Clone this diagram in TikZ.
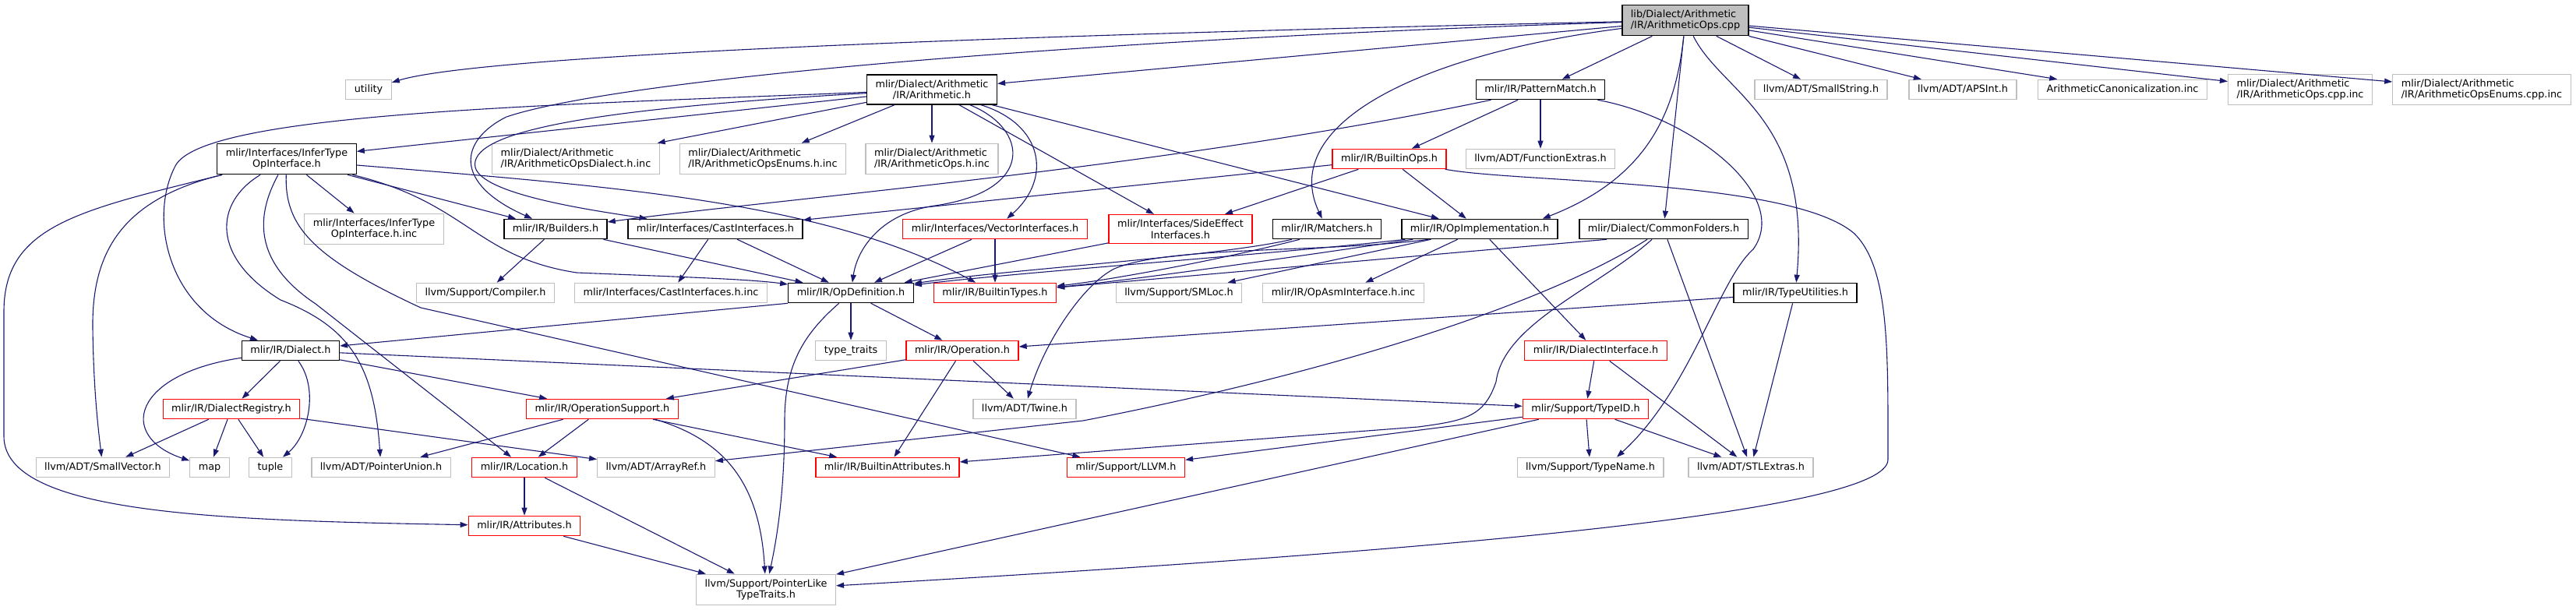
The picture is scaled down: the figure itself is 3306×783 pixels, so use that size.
\documentclass[tikz,border=0pt]{standalone}
\usepackage{fontspec}
\setmainfont{DejaVu Sans}
\usepackage{tikz}
\usetikzlibrary{arrows.meta}
\definecolor{edgeblue}{RGB}{25,25,112}
\definecolor{boxgray}{RGB}{191,191,191}
\definecolor{truncred}{RGB}{255,0,0}

\begin{document}
\begin{tikzpicture}[x=1pt,y=-1pt,>={Triangle[length=10pt,width=7pt]},
    file/.style={line width=1.3pt,fill=white,inner xsep=11pt,inner ysep=6.3pt,
        font=\fontsize{12.8}{14.5}\selectfont,align=center},
    one/.style={file,minimum height=25pt,text height=9.7pt,text depth=3pt},
    two/.style={file},
    hdr/.style={draw=black},
    sys/.style={draw=boxgray},
    cut/.style={draw=truncred},
    dep/.style={->,draw=edgeblue,line width=1.1pt}]
    \useasboundingbox (0,0) rectangle (3306,783);

    \node[two,hdr,fill=boxgray,align=left] (root) at (2163,26) {lib/Dialect/Arithmetic\\/IR/ArithmeticOps.cpp};

    \node[one,sys] (utility) at (473,115) {utility};
    \node[two,hdr] (arith) at (1196,115) {mlir/Dialect/Arithmetic\\/IR/Arithmetic.h};
    \node[one,hdr] (pmatch) at (1977,115) {mlir/IR/PatternMatch.h};
    \node[one,sys] (smallstr) at (2337,115) {llvm/ADT/SmallString.h};
    \node[one,sys] (apsint) at (2519,115) {llvm/ADT/APSInt.h};
    \node[one,sys] (canon) at (2724,115) {ArithmeticCanonicalization.inc};
    \node[two,sys,align=left] (opscppinc) at (2952,115) {mlir/Dialect/Arithmetic\\/IR/ArithmeticOps.cpp.inc};
    \node[two,sys,align=left] (enumscppinc) at (3185,115) {mlir/Dialect/Arithmetic\\/IR/ArithmeticOpsEnums.cpp.inc};

    \node[two,hdr] (infer) at (368,204) {mlir/Interfaces/InferType\\OpInterface.h};
    \node[two,sys,align=left] (dialinc) at (739,204) {mlir/Dialect/Arithmetic\\/IR/ArithmeticOpsDialect.h.inc};
    \node[two,sys,align=left] (enumsinc) at (979,204) {mlir/Dialect/Arithmetic\\/IR/ArithmeticOpsEnums.h.inc};
    \node[two,sys,align=left] (opsinc) at (1196,204) {mlir/Dialect/Arithmetic\\/IR/ArithmeticOps.h.inc};
    \node[one,cut] (builtinops) at (1783,204) {mlir/IR/BuiltinOps.h};
    \node[one,sys] (funcext) at (1977,204) {llvm/ADT/FunctionExtras.h};

    \node[two,sys] (inferinc) at (480,294) {mlir/Interfaces/InferType\\OpInterface.h.inc};
    \node[one,hdr] (builders) at (713,294) {mlir/IR/Builders.h};
    \node[one,hdr] (castif) at (918,294) {mlir/Interfaces/CastInterfaces.h};
    \node[one,cut] (vecif) at (1277,294) {mlir/Interfaces/VectorInterfaces.h};
    \node[two,cut] (sideeff) at (1515,294) {mlir/Interfaces/SideEffect\\Interfaces.h};
    \node[one,hdr] (matchers) at (1703,294) {mlir/IR/Matchers.h};
    \node[one,hdr] (opimpl) at (1899,294) {mlir/IR/OpImplementation.h};
    \node[one,hdr] (commonf) at (2135,294) {mlir/Dialect/CommonFolders.h};

    \node[one,sys] (compiler) at (623,376) {llvm/Support/Compiler.h};
    \node[one,sys] (castinc) at (861,376) {mlir/Interfaces/CastInterfaces.h.inc};
    \node[one,hdr] (opdef) at (1092,376) {mlir/IR/OpDefinition.h};
    \node[one,cut] (btypes) at (1277,376) {mlir/IR/BuiltinTypes.h};
    \node[one,sys] (smloc) at (1513,376) {llvm/Support/SMLoc.h};
    \node[one,sys] (opasminc) at (1724,376) {mlir/IR/OpAsmInterface.h.inc};
    \node[one,hdr] (typeutil) at (2304,376) {mlir/IR/TypeUtilities.h};

    \node[one,hdr] (dialect) at (373,450) {mlir/IR/Dialect.h};
    \node[one,sys] (typetraits) at (1092,450) {type\_traits};
    \node[one,cut] (operation) at (1235,450) {mlir/IR/Operation.h};
    \node[one,cut] (dialif) at (2048,450) {mlir/IR/DialectInterface.h};

    \node[one,cut] (dregistry) at (297,525) {mlir/IR/DialectRegistry.h};
    \node[one,cut] (opsupport) at (773,525) {mlir/IR/OperationSupport.h};
    \node[one,sys] (twine) at (1315,525) {llvm/ADT/Twine.h};
    \node[one,cut] (typeid) at (2035,525) {mlir/Support/TypeID.h};

    \node[one,sys] (smallvec) at (132,600) {llvm/ADT/SmallVector.h};
    \node[one,sys] (map) at (269,600) {map};
    \node[one,sys] (tuple) at (347,600) {tuple};
    \node[one,sys] (ptrunion) at (489,600) {llvm/ADT/PointerUnion.h};
    \node[one,cut] (location) at (673,600) {mlir/IR/Location.h};
    \node[one,sys] (arrayref) at (842,600) {llvm/ADT/ArrayRef.h};
    \node[one,cut] (battrs) at (1139,600) {mlir/IR/BuiltinAttributes.h};
    \node[one,cut] (llvmh) at (1445,600) {mlir/Support/LLVM.h};
    \node[one,sys] (typename) at (2041,600) {llvm/Support/TypeName.h};
    \node[one,sys] (stlextras) at (2247,600) {llvm/ADT/STLExtras.h};

    \node[one,cut] (attributes) at (673,675) {mlir/IR/Attributes.h};
    \node[two,sys] (ptrlike) at (983,757) {llvm/Support/PointerLike\\TypeTraits.h};

    \draw[dep] (root) .. controls (1300,45) and (620,70) .. (utility);
    \draw[dep] (root) .. controls (1400,50) and (800,100) .. (650,150) .. controls (590,180) and (580,235) .. (builders);
    \draw[dep] (root) -- (arith);
    \draw[dep] (root) .. controls (1820,70) and (1640,160) .. (matchers);
    \draw[dep] (root) -- (pmatch);
    \draw[dep] (root) .. controls (2150,150) and (2110,230) .. ([xshift=-20pt]opimpl.north east);
    \draw[dep] (root) -- (commonf);
    \draw[dep] (root) .. controls (2210,120) and (2325,150) .. (typeutil);
    \draw[dep] (root) -- (smallstr);
    \draw[dep] (root) -- (apsint);
    \draw[dep] (root) -- (canon);
    \draw[dep] (root) -- (opscppinc);
    \draw[dep] (root) -- (enumscppinc);

    \draw[dep] (arith) .. controls (700,135) and (260,145) .. (225,213) .. controls (190,280) and (215,400) .. (dialect);
    \draw[dep] (arith) .. controls (750,140) and (600,170) .. (610,215) .. controls (620,250) and (760,270) .. (castif);
    \draw[dep] (arith) -- (infer);
    \draw[dep] (arith) -- (dialinc);
    \draw[dep] (arith) -- (enumsinc);
    \draw[dep] (arith) -- (opsinc);
    \draw[dep] (arith) .. controls (1320,165) and (1330,245) .. (1200,264) .. controls (1130,274) and (1100,320) .. (opdef);
    \draw[dep] (arith) .. controls (1340,160) and (1350,230) .. (vecif);
    \draw[dep] (arith) -- (sideeff);
    \draw[dep] (arith) -- (opimpl);

    \draw[dep] (infer) .. controls (100,270) and (5,290) .. (5,400) -- (5,560) .. controls (5,660) and (280,668) .. (attributes);
    \draw[dep] (infer) .. controls (160,255) and (118,320) .. (119,420) .. controls (120,500) and (126,550) .. (smallvec);
    \draw[dep] (infer) .. controls (275,260) and (270,330) .. (360,385) .. controls (450,420) and (480,470) .. (ptrunion);
    \draw[dep] (infer) .. controls (335,265) and (315,330) .. (405,390) -- (location);
    \draw[dep] (infer) .. controls (365,290) and (400,330) .. (540,395) -- (llvmh);
    \draw[dep] (infer) .. controls (600,260) and (610,330) .. (740,350) .. controls (860,355) and (960,358) .. (opdef);
    \draw[dep] (infer) -- (builders);
    \draw[dep] ([yshift=-8pt]infer.east) .. controls (800,240) and (1060,260) .. (btypes);
    \draw[dep] (infer) -- (inferinc);

    \draw[dep] (pmatch) .. controls (1500,215) and (1000,255) .. (builders);
    \draw[dep] (pmatch) -- (builtinops);
    \draw[dep] (pmatch) -- (funcext);
    \draw[dep] (pmatch) .. controls (2170,150) and (2300,250) .. (2250,320) .. controls (2205,360) and (2170,500) .. ([xshift=34pt]typename.north);

    \draw[dep] (builtinops) -- (castif);
    \draw[dep] (builtinops) -- (sideeff);
    \draw[dep] (builtinops) -- (opimpl);
    \draw[dep] (builtinops) .. controls (1950,235) and (2300,230) .. (2380,300) .. controls (2425,345) and (2423,450) .. (2423,590) .. controls (2423,660) and (1800,710) .. (ptrlike);

    \draw[dep] (builders) -- (compiler);
    \draw[dep] (builders) -- (opdef);
    \draw[dep] (castif) -- (castinc);
    \draw[dep] (castif) -- (opdef);
    \draw[dep] (vecif) -- (opdef);
    \draw[dep] (vecif) -- (btypes);
    \draw[dep] (sideeff) -- (opdef);
    \draw[dep] ([xshift=-45pt]matchers.south) .. controls (1560,330) and (1300,345) .. (opdef);
    \draw[dep] ([xshift=-35pt]matchers.south) .. controls (1560,335) and (1420,360) .. (btypes);

    \draw[dep] ([xshift=5pt]opimpl.south west) .. controls (1650,325) and (1300,350) .. (opdef);
    \draw[dep] ([xshift=15pt]opimpl.south west) .. controls (1660,330) and (1450,360) .. (btypes);
    \draw[dep] (opimpl) -- (smloc);
    \draw[dep] (opimpl) -- (opasminc);
    \draw[dep] (opimpl) -- (dialif);
    \draw[dep] ([xshift=35pt]opimpl.south west) .. controls (1700,325) and (1500,315) .. (1430,345) .. controls (1390,365) and (1340,440) .. (twine);

    \draw[dep] ([xshift=-73pt]commonf.south) -- (btypes);
    \draw[dep] (commonf) .. controls (2000,380) and (1750,470) .. (1390,540) -- (arrayref);
    \draw[dep] (commonf) .. controls (2050,370) and (1930,415) .. (1920,490) .. controls (1905,535) and (1880,540) .. (1820,548) -- (battrs);
    \draw[dep] (commonf) -- (stlextras);

    \draw[dep] (typeutil) -- (operation);
    \draw[dep] (typeutil) -- (stlextras);

    \draw[dep] (opdef.south west) -- (dialect);
    \draw[dep] (opdef) .. controls (1030,430) and (1007,470) .. (1007,540) .. controls (1007,640) and (995,700) .. (ptrlike);
    \draw[dep] (opdef) -- (typetraits);
    \draw[dep] (opdef) -- (operation);

    \draw[dep] (operation) -- (opsupport);
    \draw[dep] (operation) -- (battrs);
    \draw[dep] (operation) -- (twine);

    \draw[dep] (dialect) .. controls (170,480) and (150,560) .. (map);
    \draw[dep] (dialect) -- (dregistry);
    \draw[dep] (dialect) .. controls (410,500) and (395,560) .. (tuple);
    \draw[dep] (dialect) -- (typeid);
    \draw[dep] (dialect) -- (opsupport);

    \draw[dep] (dregistry) -- (smallvec);
    \draw[dep] (dregistry) -- (map);
    \draw[dep] (dregistry) -- (tuple);
    \draw[dep] (dregistry) -- (arrayref);

    \draw[dep] (opsupport) -- (ptrunion);
    \draw[dep] (opsupport) -- (location);
    \draw[dep] (opsupport) -- (battrs);
    \draw[dep] ([xshift=-30pt]opsupport.south east) .. controls (930,565) and (975,620) .. (ptrlike);

    \draw[dep] (location) -- (attributes);
    \draw[dep] (location) -- (ptrlike);
    \draw[dep] (attributes) -- (ptrlike);

    \draw[dep] (dialif) -- (typeid);
    \draw[dep] (dialif) -- (stlextras);

    \draw[dep] (typeid) -- (typename);
    \draw[dep] (typeid) -- (stlextras);
    \draw[dep] (typeid) -- (llvmh);
    \draw[dep] (typeid) -- (ptrlike);
\end{tikzpicture}
\end{document}
